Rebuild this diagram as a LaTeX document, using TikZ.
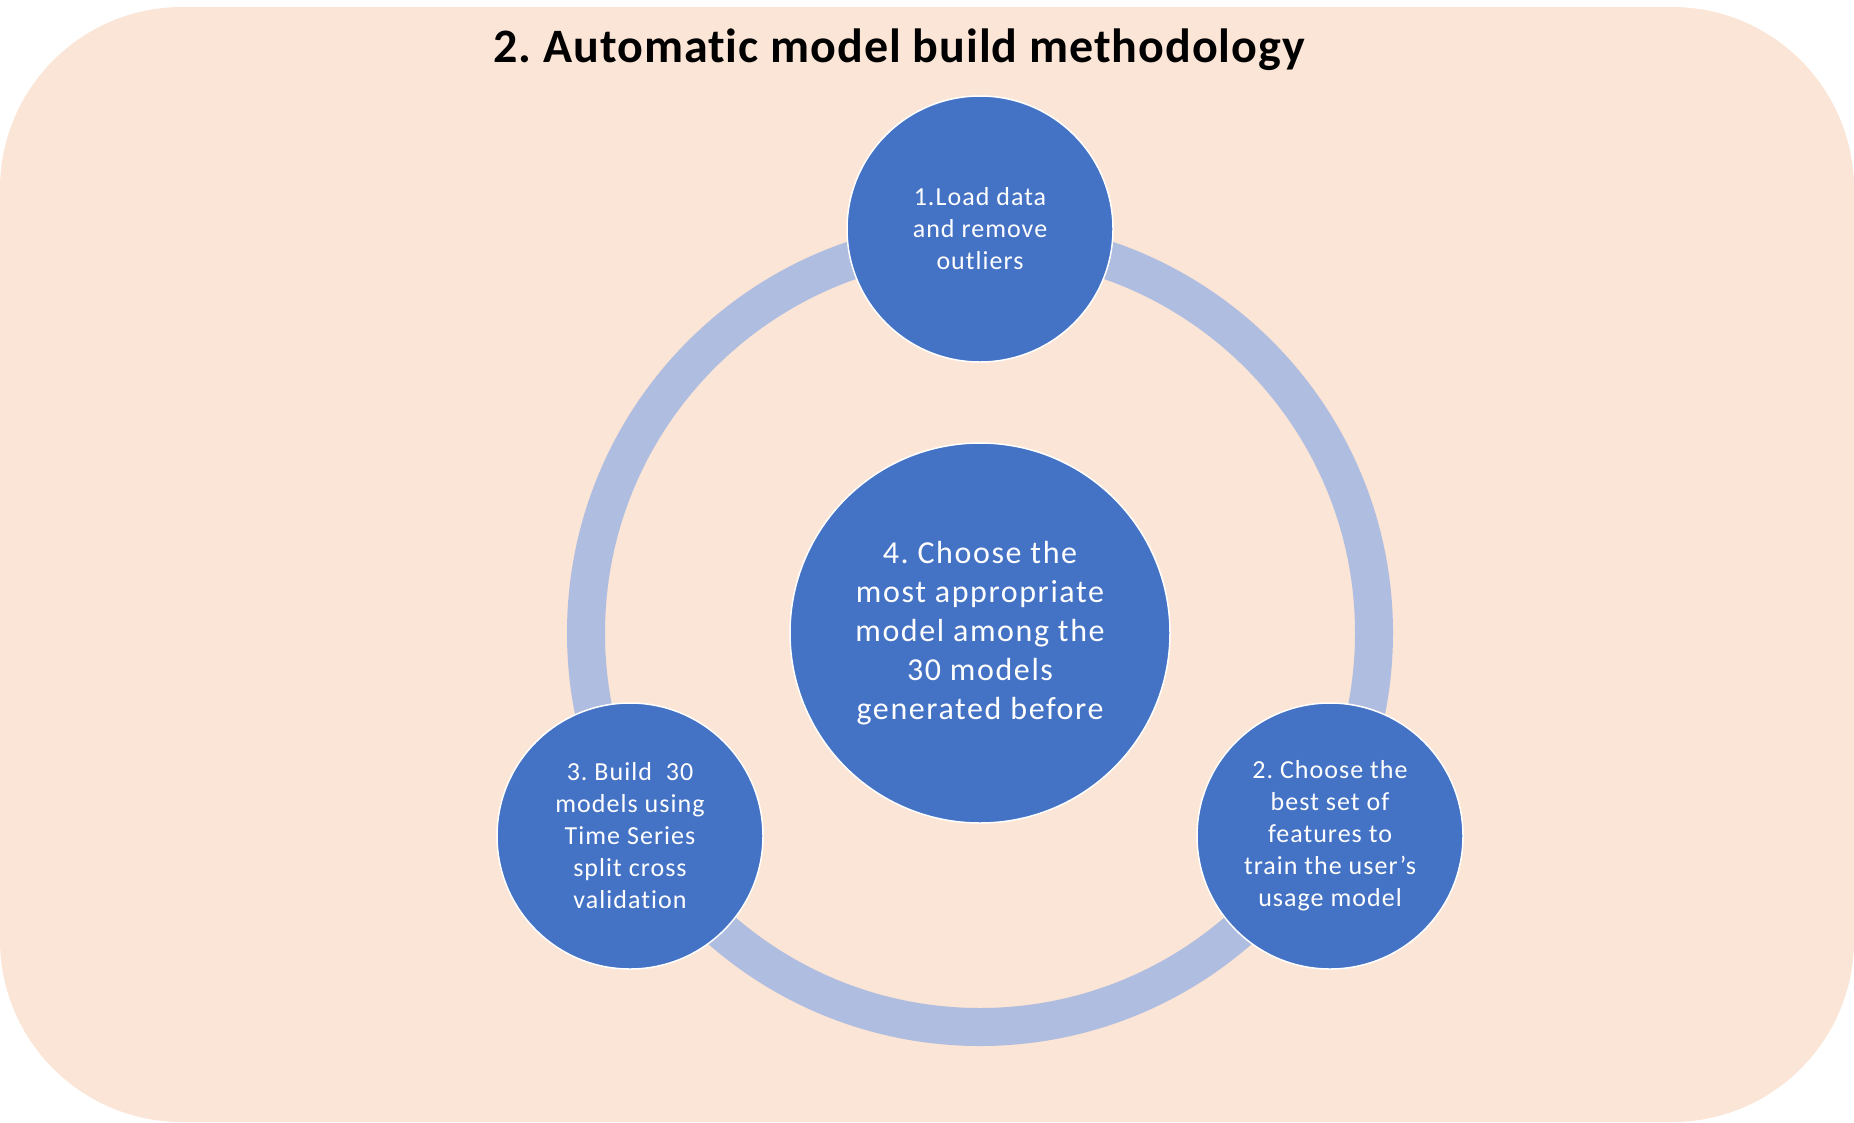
\documentclass[tikz,border=0pt]{standalone}
\usepackage{fontspec}
\setmainfont{Carlito}[Ligatures={NoCommon}]
\frenchspacing
\definecolor{bgpeach}{HTML}{FBE5D6}
\definecolor{nodeblue}{HTML}{4472C4}
\definecolor{ringblue}{RGB}{175,189,224}
\tikzset{
  stepcircle/.style={circle, fill=nodeblue, draw=white, line width=1.5pt, inner sep=0pt,
    minimum size=266pt, align=center, text=white,
    font=\fontsize{26}{32}\selectfont\addfontfeature{LetterSpace=4}},
  hubcircle/.style={stepcircle, minimum size=380pt,
    font=\fontsize{32}{39}\selectfont\addfontfeature{LetterSpace=5}},
  ringline/.style={draw=ringblue, line width=38pt},
}
\begin{document}
\begin{tikzpicture}[x=1pt,y=-1pt]
\useasboundingbox (0,0) rectangle (1854,1122);
\fill[bgpeach, rounded corners=182pt] (0,7) rectangle (1854,1122);
\node[anchor=base, font=\fontsize{48}{56}\selectfont\bfseries\addfontfeature{LetterSpace=2}] (title) at (899,62) {2. Automatic model build methodology};
\coordinate (ringc) at (980,633);
\draw[ringline] (ringc) circle[radius=394pt];
\node[hubcircle] (hub) at (980,633) {4. Choose the\\most appropriate\\model among the\\30 models\\generated before};
\node[stepcircle] (s1) at (980,229) {1.Load data\\and remove\\outliers};
\node[stepcircle] (s2) at (1330,836) {2. Choose the\\best set of\\features to\\train the user’s\\usage model};
\node[stepcircle] (s3) at (630,836) {3. Build~~30\\models using\\Time Series\\split cross\\validation};
\end{tikzpicture}
\end{document}
